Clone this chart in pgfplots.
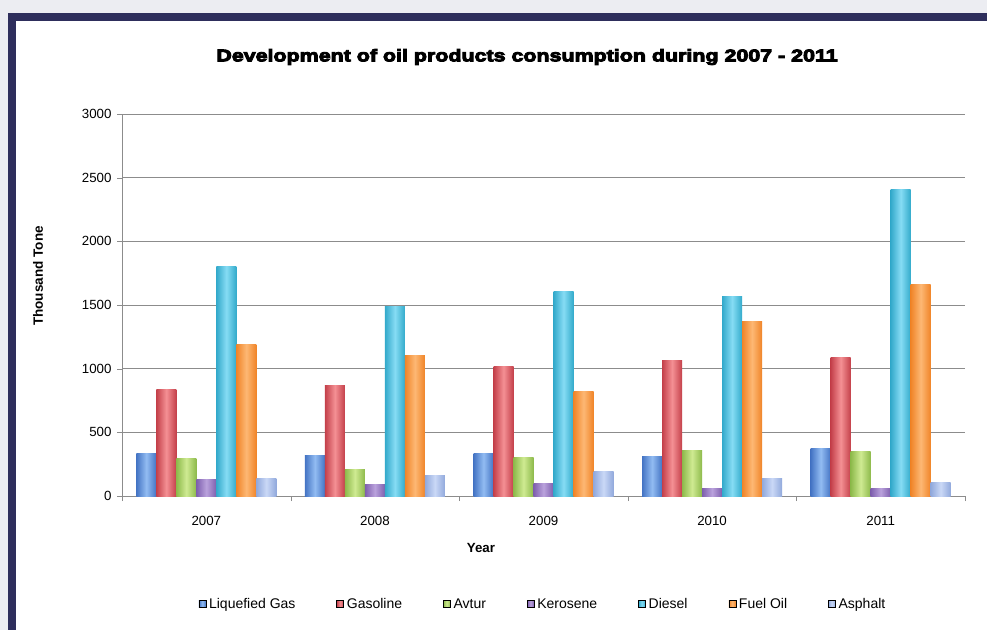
\documentclass[border=0pt]{standalone}
\usepackage{fontspec}
\setmainfont{Liberation Sans}
\newfontfamily\titlefont[FakeStretch=1.26,BoldFeatures={FakeBold=5.5}]{Liberation Sans}
\usepackage{pgfplots}
\pgfplotsset{compat=1.18}
\definecolor{navyframe}{HTML}{2E2E5C}
\definecolor{bgout}{HTML}{ECEDF2}
\definecolor{gridc}{HTML}{8C8C8C}
\definecolor{lgD}{HTML}{4474C4}\definecolor{lgL}{HTML}{92BCF2}
\definecolor{gaD}{HTML}{C4404A}\definecolor{gaL}{HTML}{F49094}
\definecolor{avD}{HTML}{8DBA4B}\definecolor{avL}{HTML}{CFEA92}
\definecolor{keD}{HTML}{7E5FAE}\definecolor{keL}{HTML}{BAA2DC}
\definecolor{diD}{HTML}{33AACB}\definecolor{diL}{HTML}{86DCF4}
\definecolor{fuD}{HTML}{F08428}\definecolor{fuL}{HTML}{FDB874}
\definecolor{asD}{HTML}{91A9DC}\definecolor{asL}{HTML}{CAD8F6}
\pgfplotstableread{
x LG Gas Avtur Kero Diesel Fuel Asph
0 335 840 295 130 1800 1190 140
1 320 870 210 90 1490 1100 160
2 335 1020 305 100 1605 820 190
3 310 1065 355 60 1570 1370 140
4 375 1085 350 60 2405 1660 105
}\datatable
\newcommand\series[4]{%
  \pgfplotsinvokeforeach{0,...,4}{%
    \addplot[ybar, bar width=20pt, bar shift=#4, draw=none, left color=#2, right color=#2, middle color=#3, forget plot, restrict x to domain=##1:##1] table[x=x,y=#1]{\datatable};
  }%
}
\begin{document}
\begin{tikzpicture}[x=1pt,y=1pt]
\path[use as bounding box] (0,0) rectangle (987,630);
\fill[bgout] (0,0) rectangle (987,630);
\fill[navyframe] (8,0) rectangle (987,617);
\fill[white] (16,0) rectangle (987,609);
\begin{axis}[
  at={(122pt,134pt)}, anchor=south west,
  scale only axis, width=843pt, height=382pt,
  xmin=-0.5, xmax=4.5, ymin=0, ymax=3000,
  ytick={0,500,...,3000},
  xtick={-0.5,0.5,...,4.5}, xticklabels={},
  extra x ticks={0,1,2,3,4},
  extra x tick labels={2007,2008,2009,2010,2011},
  extra x tick style={major tick length=0pt, tick label style={yshift=-17pt}},
  axis x line*=bottom, axis y line*=left,
  axis line style={draw=gridc,-},
  tick align=outside, major tick length=5pt,
  tick style={draw=gridc},
  ymajorgrids, grid style={draw=gridc, line width=0.8pt},
  ticklabel style={font=\fontsize{13.3}{15}\selectfont, /pgf/number format/assume math mode=true},
  yticklabel style={xshift=-2pt, /pgf/number format/1000 sep={}},
  scaled y ticks=false,
  legend columns=7,
  legend style={draw=none, fill=none, at={(421pt,-108pt)}, anchor=center,
    font=\fontsize{14}{16}\selectfont,
    /tikz/every even column/.append style={column sep=39pt},
    /tikz/every odd column/.append style={column sep=1pt}},
  legend image code/.code={\fill[#1] (0pt,-3.5pt) rectangle (7pt,3.5pt);},
  clip=false,
]
\series{LG}{lgD}{lgL}{-60pt}
\series{Gas}{gaD}{gaL}{-40pt}
\series{Avtur}{avD}{avL}{-20pt}
\series{Kero}{keD}{keL}{0pt}
\series{Diesel}{diD}{diL}{20pt}
\series{Fuel}{fuD}{fuL}{40pt}
\series{Asph}{asD}{asL}{60pt}
\addlegendimage{left color=lgD, right color=lgD, middle color=lgL}
\addlegendentry{Liquefied Gas}
\addlegendimage{left color=gaD, right color=gaD, middle color=gaL}
\addlegendentry{Gasoline}
\addlegendimage{left color=avD, right color=avD, middle color=avL}
\addlegendentry{Avtur}
\addlegendimage{left color=keD, right color=keD, middle color=keL}
\addlegendentry{Kerosene}
\addlegendimage{left color=diD, right color=diD, middle color=diL}
\addlegendentry{Diesel}
\addlegendimage{left color=fuD, right color=fuD, middle color=fuL}
\addlegendentry{Fuel Oil}
\addlegendimage{left color=asD, right color=asD, middle color=asL}
\addlegendentry{Asphalt}
\end{axis}
\node[font=\titlefont\bfseries\fontsize{17}{20}\selectfont] at (527,573) {Development of oil products consumption during 2007 - 2011};
\node[font=\bfseries\fontsize{13.3}{15}\selectfont] at (481,82) {Year};
\node[font=\bfseries\fontsize{13.5}{15}\selectfont, rotate=90] at (38,354) {Thousand Tone};
\end{tikzpicture}
\end{document}
